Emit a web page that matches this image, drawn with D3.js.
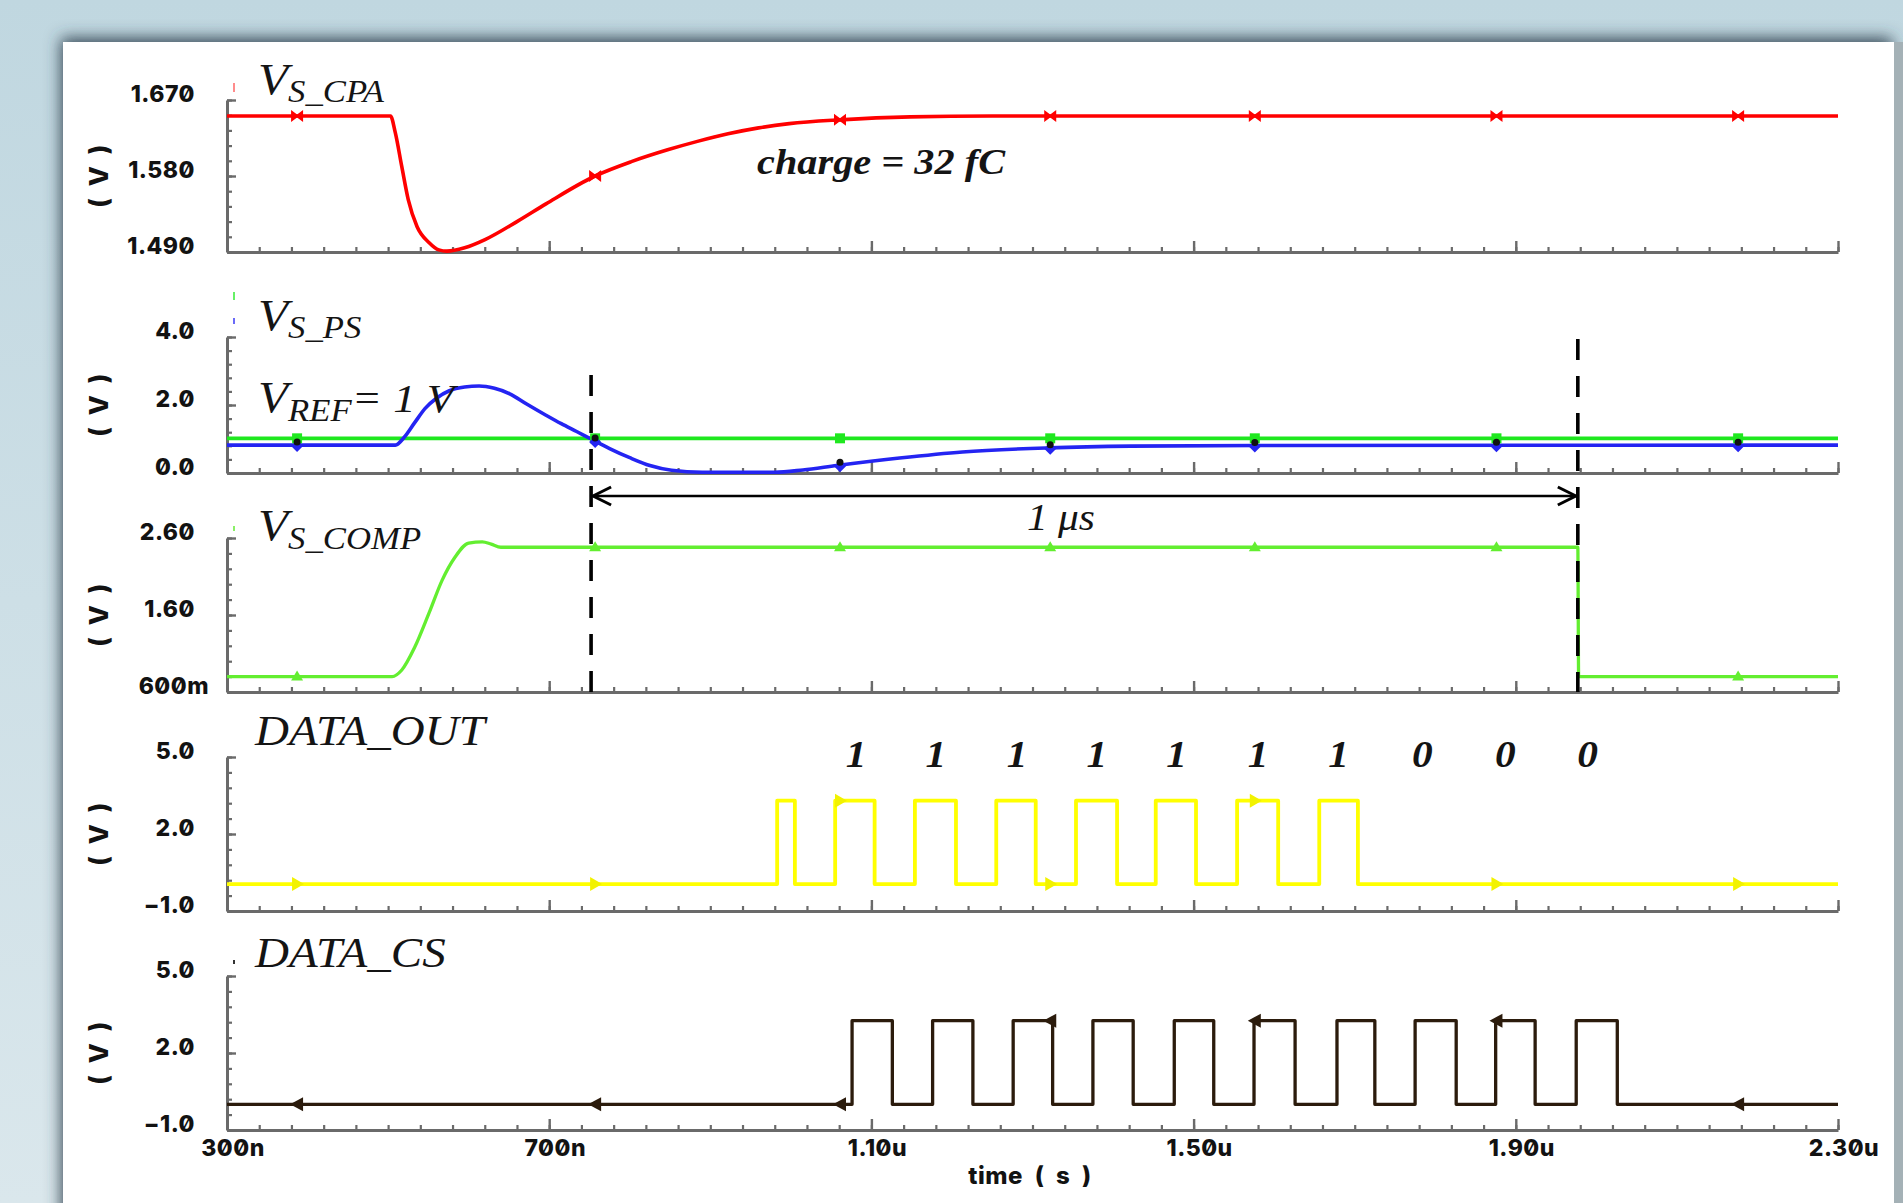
<!DOCTYPE html>
<html><head><meta charset="utf-8">
<script src="https://cdn.jsdelivr.net/npm/d3@7"></script>
<style>
html,body{margin:0;padding:0;overflow:hidden;background:#cfe0e7}
svg{display:block}
.tl{font-family:Inter,'DejaVu Sans',sans-serif;font-weight:800;font-size:23px;fill:#121212;font-feature-settings:'zero' 1;font-variant-numeric:slashed-zero;letter-spacing:0.5px}
.serif{font-family:'Liberation Serif','Times New Roman',serif;font-style:italic;fill:#141414}
</style></head><body>
<svg id="chart" width="1903" height="1203"></svg>
<script>
// ---------------- data (time in ns, values in V) ----------------
const timeRange = [300, 2300];
const timeTicks = [300, 700, 1100, 1500, 1900, 2300];
const timeTickLabels = ["300n", "700n", "1.10u", "1.50u", "1.90u", "2.30u"];
const markerTimes = [387, 757, 1061, 1322, 1576, 1876, 2176];

const cpaTicks = [1.49, 1.58, 1.67];
const cpaTickLabels = ["1.490", "1.580", "1.670"];
const cpaWave = [[300,1.651],[503,1.651],[509,1.631],[517,1.591],[525,1.552],[536,1.520],[551,1.501],[563,1.4925],[573,1.491],[595,1.495],[621,1.505],[660,1.526],[696,1.547],[757,1.580],[802,1.597],[847,1.611],[884,1.621],[922,1.630],[960,1.637],[998,1.642],[1061,1.6465],[1148,1.650],[1250,1.651],[2300,1.651]];

const psTicks = [0, 2, 4];
const psTickLabels = ["0.0", "2.0", "4.0"];
const psWave = [[300,0.82],[509,0.82],[520,1.05],[533,1.48],[546,1.90],[560,2.20],[576,2.42],[595,2.53],[613,2.56],[632,2.49],[651,2.33],[672,2.03],[696,1.70],[715,1.45],[734,1.22],[752,1.0],[775,0.72],[800,0.45],[825,0.22],[852,0.08],[890,0.02],[980,0.02],[1015,0.09],[1057,0.22],[1135,0.44],[1213,0.62],[1320,0.74],[1422,0.79],[1578,0.81],[2300,0.82]];
const vrefWave = [[300,1.02],[2300,1.02]];

const compTicks = [0.6, 1.6, 2.6];
const compTickLabels = ["600m", "1.60", "2.60"];
const compWave = [[300,0.80],[505,0.80],[517,0.886],[533,1.18],[551,1.63],[567,2.05],[583,2.35],[600,2.535],[617,2.55],[628,2.52],[640,2.48],[700,2.48],[1977,2.48],[1978,0.80],[2300,0.80]];

const outTicks = [-1, 2, 5];
const outTickLabels = ["\u22121.0", "2.0", "5.0"];
const outLevels = [0.05, 3.3];
const outRises = [983, 1055, 1154, 1255, 1354, 1453, 1554, 1656];
const outFalls = [1005, 1104, 1205, 1304, 1405, 1503, 1605, 1704];

const csTicks = [-1, 2, 5];
const csTickLabels = ["\u22121.0", "2.0", "5.0"];
const csLevels = [0.0, 3.26];
const csRises = [1076, 1176, 1276, 1375, 1476, 1575, 1678, 1775, 1875, 1975];
const csFalls = [1126, 1226, 1325, 1425, 1525, 1626, 1725, 1826, 1924, 2026];

const bitTimes = [1081, 1180, 1281, 1380, 1479, 1580, 1680, 1784, 1887, 1989];
const bitLabels = ["1","1","1","1","1","1","1","0","0","0"];
const windowTimes = [752, 1977];
const windowLabel = "1 \u03bcs";
const chargeLabel = "charge = 32 fC";

// ---------------- layout ----------------
const W = 1903, H = 1203;
const svg = d3.select("#chart");
const defs = svg.append("defs");
const bg = defs.append("linearGradient").attr("id","bg").attr("x1",0).attr("y1",0).attr("x2",0).attr("y2",1);
bg.append("stop").attr("offset","0").attr("stop-color","#c0d7e0");
bg.append("stop").attr("offset","1").attr("stop-color","#dae7ec");
const f = defs.append("filter").attr("id","sh").attr("x","-5%").attr("y","-5%").attr("width","110%").attr("height","110%");
f.append("feDropShadow").attr("dx",-2).attr("dy",-4).attr("stdDeviation",8).attr("flood-color","#2e4350").attr("flood-opacity",0.95);

svg.append("rect").attr("width",W).attr("height",H).attr("fill","url(#bg)");
svg.append("rect").attr("x",63).attr("y",42).attr("width",1831).attr("height",1200).attr("fill","#fff").attr("filter","url(#sh)");
svg.append("rect").attr("x",1894).attr("y",42).attr("width",9).attr("height",H).attr("fill","#a4b1b6");

const x = d3.scaleLinear().domain(timeRange).range([227, 1838]);
const minorTimes = d3.range(300, 2300.1, 40);

const panels = [
  {dom:[1.49,1.67], top:100, bot:252, ticks:cpaTicks, labels:cpaTickLabels},
  {dom:[0,4],       top:337, bot:473, ticks:psTicks,  labels:psTickLabels},
  {dom:[0.6,2.6],   top:538, bot:692, ticks:compTicks,labels:compTickLabels},
  {dom:[-1,5],      top:757, bot:911, ticks:outTicks, labels:outTickLabels},
  {dom:[-1,5],      top:976, bot:1130,ticks:csTicks,  labels:csTickLabels}
];
const axisColor = "#6a6a6a";

panels.forEach((p,i)=>{
  p.y = d3.scaleLinear().domain(p.dom).range([p.bot, p.top]);
  const g = svg.append("g");
  const gxm = g.append("g").attr("transform",`translate(0,${p.bot})`)
    .call(d3.axisBottom(x).tickValues(minorTimes).tickSize(-5).tickFormat(""));
  gxm.select(".domain").remove();
  gxm.selectAll("line").attr("stroke",axisColor).attr("stroke-width",2.2);
  const gx = g.append("g").attr("transform",`translate(0,${p.bot})`)
    .call(d3.axisBottom(x).tickValues(timeTicks).tickSize(-11).tickSizeOuter(0).tickFormat(""));
  gx.select(".domain").attr("stroke",axisColor).attr("stroke-width",3);
  gx.selectAll("line").attr("stroke",axisColor).attr("stroke-width",2.4);
  const step = (p.ticks[1]-p.ticks[0])/5;
  const ym = d3.range(p.ticks[0], p.ticks[2]+step/2, step);
  const gym = g.append("g").attr("transform",`translate(227,0)`)
    .call(d3.axisLeft(p.y).tickValues(ym).tickSize(-5).tickFormat(""));
  gym.select(".domain").remove();
  gym.selectAll("line").attr("stroke",axisColor).attr("stroke-width",2.2);
  const gy = g.append("g").attr("transform",`translate(227,0)`)
    .call(d3.axisLeft(p.y).tickValues(p.ticks).tickSize(-9).tickSizeOuter(0).tickFormat(""));
  gy.select(".domain").attr("stroke",axisColor).attr("stroke-width",3);
  gy.selectAll("line").attr("stroke",axisColor).attr("stroke-width",2.4);
  p.ticks.forEach((t,k)=>{
    const lab = p.labels[k];
    g.append("text").attr("class","tl").attr("text-anchor","end")
      .attr("x", lab.endsWith("m") ? 209 : 195).attr("y", p.y(t)+2).text(lab);
  });
  g.append("text").attr("class","tl").attr("text-anchor","middle")
    .attr("transform",`translate(108,${(p.top+p.bot)/2}) rotate(-90)`)
    .style("font-size","26px").style("word-spacing","5px").text("( V )");
});

timeTicks.forEach((t,k)=>{
  svg.append("text").attr("class","tl").attr("text-anchor","middle")
    .attr("x", x(t)+6).attr("y", 1156).text(timeTickLabels[k]);
});
svg.append("text").attr("class","tl").attr("text-anchor","middle")
  .attr("x", 1030).attr("y", 1184).style("font-size","24px").style("word-spacing","6px").text("time ( s )");

// ---------------- helpers ----------------
function stepWave(rises, falls, lv){
  const ev = rises.map(t=>[t,1]).concat(falls.map(t=>[t,0])).sort((a,b)=>a[0]-b[0]);
  const pts = [[timeRange[0], lv[0]]];
  ev.forEach(([t,up])=>{ if(up){pts.push([t,lv[0]],[t,lv[1]]);} else {pts.push([t,lv[1]],[t,lv[0]]);} });
  pts.push([timeRange[1], lv[0]]);
  return pts;
}
const bis = d3.bisector(d=>d[0]).right;
function valueAt(w,t){
  const i = bis(w,t);
  if(i<=0) return w[0][1];
  if(i>=w.length) return w[w.length-1][1];
  const a=w[i-1], b=w[i];
  return b[0]===a[0] ? b[1] : a[1]+(b[1]-a[1])*(t-a[0])/(b[0]-a[0]);
}
function drawWave(p, w, color, width, curve){
  svg.append("path").datum(w)
    .attr("d", d3.line().x(d=>x(d[0])).y(d=>p.y(d[1])).curve(curve||d3.curveLinear))
    .attr("fill","none").attr("stroke",color).attr("stroke-width",width)
    .attr("stroke-linejoin","round");
}
function markers(p, w, color, shape, dy){
  markerTimes.forEach(t=>{
    const cx = x(t), cy = p.y(valueAt(w,t)) + (dy||0);
    svg.append("path").attr("transform",`translate(${cx},${cy})`).attr("d",shape).attr("fill",color);
  });
}
const bowtie = "M-6,-6L0,-1.5L6,-6L6,6L0,1.5L-6,6Z";
const square = "M-5,-5H5V5H-5Z";
const diamond = "M0,-6L6,0L0,6L-6,0Z";
const triUp = "M-6,4L0,-6L6,4Z";
const triRight = "M-5,-7L7,0L-5,7Z";
const triLeft = "M6,-7L-7,0L6,7Z";
const dot = "M-3.5,0A3.5,3.5 0 1 0 3.5,0A3.5,3.5 0 1 0 -3.5,0Z";

// ---------------- traces ----------------
const [P1,P2,P3,P4,P5] = panels;
drawWave(P1, cpaWave, "#ff0000", 3.6, d3.curveMonotoneX);
markers(P1, cpaWave, "#ff0000", bowtie);

drawWave(P2, vrefWave, "#1fe81f", 3.8);
drawWave(P2, psWave, "#2424f2", 3.6, d3.curveMonotoneX);
markers(P2, vrefWave, "#1fe81f", square);
markers(P2, psWave, "#2424f2", diamond, 1);
markers(P2, psWave, "#111", dot, -3);

drawWave(P3, compWave, "#63ee30", 3.3, d3.curveMonotoneX);
markers(P3, compWave, "#63ee30", triUp);

const outWave = stepWave(outRises, outFalls, outLevels);
drawWave(P4, outWave, "#ffff00", 3.8);
markers(P4, outWave, "#f2f200", triRight);

const csWave = stepWave(csRises, csFalls, csLevels);
drawWave(P5, csWave, "#2b1b0c", 3.3);
markers(P5, csWave, "#2b1b0c", triLeft);

[[P1,"#ff8c8c",83,92],[P2,"#66f066",292,300],[P2,"#6a6af8",318,324],[P3,"#8af066",526,531],[P5,"#333",960,964]]
  .forEach(([p,c,y1,y2])=>svg.append("line").attr("x1",234).attr("x2",234).attr("y1",y1).attr("y2",y2).attr("stroke",c).attr("stroke-width",2));

// ---------------- annotations ----------------
const dash = "21,16";
svg.append("line").attr("x1",x(windowTimes[0])).attr("x2",x(windowTimes[0])).attr("y1",375).attr("y2",692)
  .attr("stroke","#000").attr("stroke-width",3.6).attr("stroke-dasharray",dash);
svg.append("line").attr("x1",x(windowTimes[1])).attr("x2",x(windowTimes[1])).attr("y1",339).attr("y2",692)
  .attr("stroke","#000").attr("stroke-width",3.6).attr("stroke-dasharray",dash);
const ay = 496, ax1 = x(windowTimes[0])+2, ax2 = x(windowTimes[1])-2;
svg.append("line").attr("x1",ax1).attr("x2",ax2).attr("y1",ay).attr("y2",ay).attr("stroke","#000").attr("stroke-width",2.6);
svg.append("path").attr("d",`M${ax1+18},${ay-9}L${ax1},${ay}L${ax1+18},${ay+9}`).attr("fill","none").attr("stroke","#000").attr("stroke-width",3);
svg.append("path").attr("d",`M${ax2-18},${ay-9}L${ax2},${ay}L${ax2-18},${ay+9}`).attr("fill","none").attr("stroke","#000").attr("stroke-width",3);

const SX = 1.12;
function serif(xp, yp, parts){
  const t = svg.append("text").attr("class","serif").attr("transform",`translate(${xp},${yp}) scale(${SX},1)`);
  parts.forEach(pt=>{
    const s = t.append("tspan").text(pt.t).style("font-size",pt.s+"px");
    if(pt.dy) s.attr("dy",pt.dy);
    if(pt.b) s.style("font-weight","700");
  });
  return t;
}
serif(258, 94, [{t:"V",s:44},{t:"S_CPA",s:31,dy:8}]);
serif(258, 330, [{t:"V",s:44},{t:"S_PS",s:31,dy:8}]);
serif(258, 412, [{t:"V",s:44},{t:"REF",s:31,dy:9},{t:"= 1 V",s:40,dy:-9}]);
serif(258, 540, [{t:"V",s:44},{t:"S_COMP",s:31,dy:9}]);
serif(255, 745, [{t:"DATA_OUT",s:42}]);
serif(255, 967, [{t:"DATA_CS",s:42}]);
serif(757, 174, [{t:chargeLabel,s:36,b:true}]);
serif(1061, 530, [{t:windowLabel,s:37}]).attr("text-anchor","middle");

bitTimes.forEach((t,k)=>{
  svg.append("text").attr("class","serif").attr("text-anchor","middle")
    .attr("transform",`translate(${x(t)},767) scale(${SX},1)`)
    .style("font-size","37px").style("font-weight","700").text(bitLabels[k]);
});
</script></body></html>
